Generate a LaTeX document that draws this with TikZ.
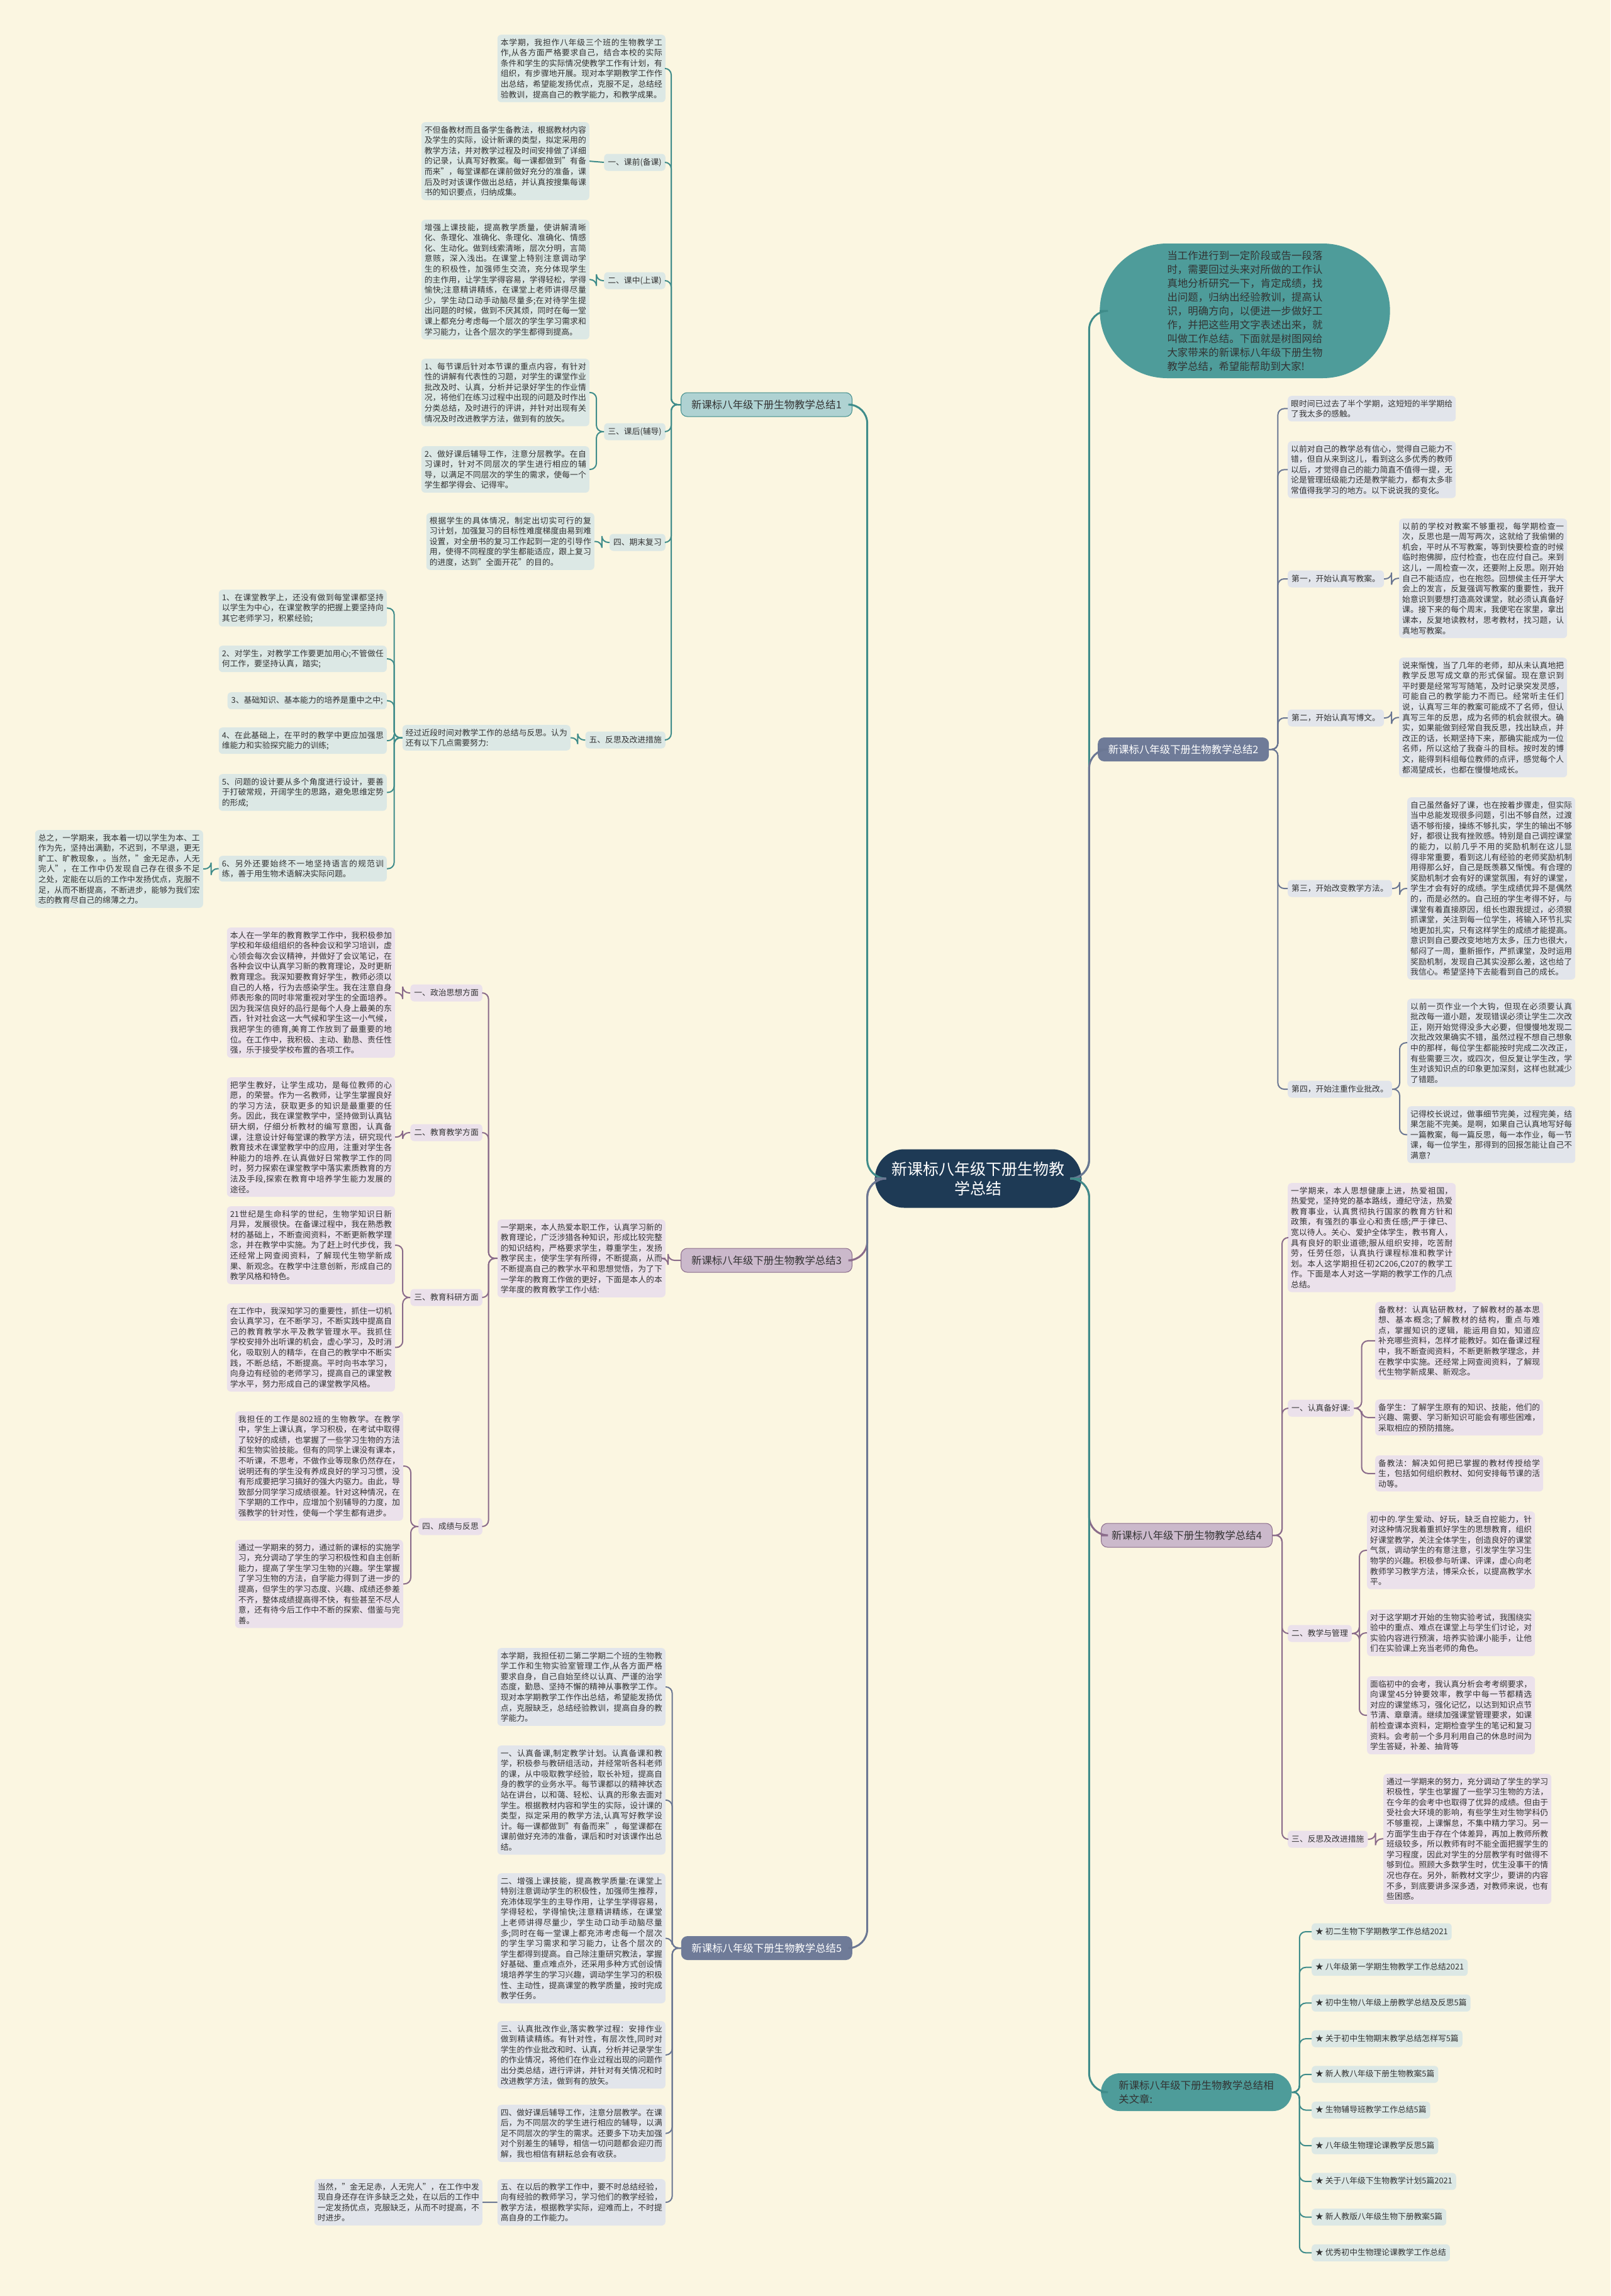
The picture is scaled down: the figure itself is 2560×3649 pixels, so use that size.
\documentclass[tikz,border=0pt]{standalone}
\usepackage{fontspec}
\setmainfont{Noto Sans CJK SC}
\XeTeXlinebreaklocale "zh"
\XeTeXlinebreakskip = 0pt plus 1pt
\usepackage{tikz}
\usetikzlibrary{shapes,arrows}
\usetikzlibrary{shapes.misc}

\definecolor{paper}{HTML}{FBF6E1}
\definecolor{ink}{HTML}{333333}
\definecolor{tealln}{HTML}{3F8C8A}
\definecolor{tealfill}{HTML}{4E9C9A}
\definecolor{tealleaf}{HTML}{DCE8E5}
\definecolor{slateln}{HTML}{6B7793}
\definecolor{slatefill}{HTML}{6F7B98}
\definecolor{slateleaf}{HTML}{E2E5EB}
\definecolor{plumln}{HTML}{8A6B8A}
\definecolor{plumfill}{HTML}{A07FA0}
\definecolor{plumleaf}{HTML}{EBE1EB}
\definecolor{rootfill}{HTML}{1E3A55}

\newcommand\leaffont{\fontsize{12.8}{16.6}\selectfont}
\newcommand\bigfont{\fontsize{16.4}{22}\selectfont}
\newcommand\rootfont{\fontsize{25}{31}\selectfont}

\tikzstyle{leaf} = [rectangle, rounded corners=6pt, text width=257pt,
    align=justify, inner xsep=5pt, inner ysep=6pt, font=\leaffont, text=ink]
\tikzstyle{tag} = [rectangle, rounded corners=6pt, inner xsep=6pt,
    inner ysep=7pt, text height=10.5pt, text depth=2.5pt, font=\leaffont, text=ink]
\tikzstyle{branch} = [rectangle, rounded corners=10pt, minimum width=272pt,
    minimum height=38pt, font=\bigfont]
\tikzstyle{stadium} = [rounded rectangle, fill=tealfill, text=ink, font=\bigfont]
\tikzstyle{edge} = [rounded corners=10pt, line width=2pt]
\tikzstyle{trunk} = [rounded corners=30pt, line width=3pt]

\begin{document}
\begin{tikzpicture}[x=1pt, y=-1pt]
  \useasboundingbox[fill=paper] (0,0) rectangle (2560,3649);
  % Place nodes
  \node [rounded rectangle, fill=rootfill, text=white, font=\rootfont,
    minimum width=335pt, minimum height=93pt, align=center]
    (root) at (1555,1873) {新课标八年级下册生物教\\学总结};

  % branch 1
  \node [branch, fill=tealfill!45, draw=tealln, line width=1pt, text=ink,
    anchor=east] (b1) at (1355,643) {新课标八年级下册生物教学总结1};
  \node [leaf, fill=tealleaf, anchor=north east] (b1t0) at (1058,55)
  {本学期，我担作八年级三个班的生物教学工作,从各方面严格要求自己，结合本校的实际条件和学生的实际情况使教学工作有计划，有组织，有步骤地开展。现对本学期教学工作作出总结，希望能发扬优点，克服不足，总结经验教训，提高自己的教学能力，和教学成果。};
  \node [tag, fill=tealleaf, anchor=east] (b1l1) at (1058,258) {一、课前(备课)};
  \node [leaf, fill=tealleaf, anchor=north east] (b1l1t) at (937,194)
  {不但备教材而且备学生备教法，根据教材内容及学生的实际，设计新课的类型，拟定采用的教学方法，并对教学过程及时间安排做了详细的记录，认真写好教案。每一课都做到"有备而来"，每堂课都在课前做好充分的准备，课后及时对该课作做出总结，并认真按搜集每课书的知识要点，归纳成集。};
  \node [tag, fill=tealleaf, anchor=east] (b1l2) at (1058,446) {二、课中(上课)};
  \node [leaf, fill=tealleaf, anchor=north east] (b1l2t) at (937,349)
  {增强上课技能，提高教学质量，使讲解清晰化、条理化、准确化、条理化、准确化、情感化、生动化。做到线索清晰，层次分明，言简意赅，深入浅出。在课堂上特别注意调动学生的积极性，加强师生交流，充分体现学生的主作用，让学生学得容易，学得轻松，学得愉快;注意精讲精练，在课堂上老师讲得尽量少，学生动口动手动脑尽量多;在对待学生提出问题的时候，做到不厌其烦，同时在每一堂课上都充分考虑每一个层次的学生学习需求和学习能力，让各个层次的学生都得到提高。};
  \node [tag, fill=tealleaf, anchor=east] (b1l3) at (1058,686) {三、课后(辅导)};
  \node [leaf, fill=tealleaf, anchor=north east] (b1l3a) at (937,570)
  {1、每节课后针对本节课的重点内容，有针对性的讲解有代表性的习题，对学生的课堂作业批改及时、认真，分析并记录好学生的作业情况，将他们在练习过程中出现的问题及时作出分类总结，及时进行的评讲，并针对出现有关情况及时改进教学方法，做到有的放矢。};
  \node [leaf, fill=tealleaf, anchor=north east] (b1l3b) at (937,709)
  {2、做好课后辅导工作，注意分层教学。在自习课时，针对不同层次的学生进行相应的辅导，以满足不同层次的学生的需求，使每一个学生都学得会、记得牢。};
  \node [tag, fill=tealleaf, anchor=east] (b1l4) at (1058,862) {四、期末复习};
  \node [leaf, fill=tealleaf, anchor=north east] (b1l4t) at (945,815)
  {根据学生的具体情况，制定出切实可行的复习计划，加强复习的目标性难度梯度由易到难设置，对全册书的复习工作起到一定的引导作用，使得不同程度的学生都能适应，跟上复习的进度，达到"全面开花"的目的。};
  \node [tag, fill=tealleaf, anchor=east] (b1l5) at (1058,1176) {五、反思及改进措施};
  \node [leaf, fill=tealleaf, anchor=north east] (b1l5t) at (907,1152)
  {经过近段时间对教学工作的总结与反思。认为还有以下几点需要努力:};
  \node [leaf, fill=tealleaf, anchor=north east] (b1r1) at (615,937)
  {1、在课堂教学上，还没有做到每堂课都坚持以学生为中心，在课堂教学的把握上要坚持向其它老师学习，积累经验;};
  \node [leaf, fill=tealleaf, anchor=north east] (b1r2) at (615,1026)
  {2、对学生，对教学工作要更加用心;不管做任何工作，要坚持认真，踏实;};
  \node [tag, fill=tealleaf, anchor=north east] (b1r3) at (615,1100)
  {3、基础知识、基本能力的培养是重中之中;};
  \node [leaf, fill=tealleaf, anchor=north east] (b1r4) at (615,1156)
  {4、在此基础上，在平时的教学中更应加强思维能力和实验探究能力的训练;};
  \node [leaf, fill=tealleaf, anchor=north east] (b1r5) at (615,1230)
  {5、问题的设计要从多个角度进行设计，要善于打破常规，开阔学生的思路，避免思维定势的形成;};
  \node [leaf, fill=tealleaf, anchor=north east] (b1r6) at (615,1360)
  {6、另外还要始终不一地坚持语言的规范训练，善于用生物术语解决实际问题。};
  \node [leaf, fill=tealleaf, anchor=north east] (b1r6t) at (323,1319)
  {总之，一学期来，我本着一切以学生为本、工作为先，坚持出满勤，不迟到，不早退，更无旷工、旷教现象，。当然，"金无足赤，人无完人"，在工作中仍发现自己存在很多不足之处，定能在以后的工作中发扬优点，克服不足，从而不断提高，不断进步，能够为我们宏志的教育尽自己的绵薄之力。};

  % branch 3
  \node [branch, fill=plumfill!55, draw=plumln, line width=1pt, text=ink,
    anchor=east] (b3) at (1355,2003) {新课标八年级下册生物教学总结3};
  \node [leaf, fill=plumleaf, anchor=north east] (b3t) at (1058,1938)
  {一学期来，本人热爱本职工作，认真学习新的教育理论，广泛涉猎各种知识，形成比较完整的知识结构，严格要求学生，尊重学生，发扬教学民主，使学生学有所得，不断提高，从而不断提高自己的教学水平和思想觉悟，为了下一学年的教育工作做的更好，下面是本人的本学年度的教育教学工作小结:};
  \node [tag, fill=plumleaf, anchor=east] (b3l1) at (767,1578) {一、政治思想方面};
  \node [leaf, fill=plumleaf, anchor=north east] (b3l1t) at (628,1474)
  {本人在一学年的教育教学工作中，我积极参加学校和年级组组织的各种会议和学习培训，虚心领会每次会议精神，并做好了会议笔记，在各种会议中认真学习新的教育理论，及时更新教育理念。我深知要教育好学生，教师必须以自己的人格，行为去感染学生。我在注意自身师表形象的同时非常重视对学生的全面培养。因为我深信良好的品行是每个人身上最美的东西，针对社会这一大气候和学生这一小气候，我把学生的德育,美育工作放到了最重要的地位。在工作中，我积极、主动、勤恳、责任性强，乐于接受学校布置的各项工作。};
  \node [tag, fill=plumleaf, anchor=east] (b3l2) at (767,1800) {二、教育教学方面};
  \node [leaf, fill=plumleaf, anchor=north east] (b3l2t) at (628,1712)
  {把学生教好，让学生成功，是每位教师的心愿，的荣誉。作为一名教师，让学生掌握良好的学习方法，获取更多的知识是最重要的任务。因此，我在课堂教学中，坚持做到认真钻研大纲，仔细分析教材的编写意图，认真备课，注意设计好每堂课的教学方法，研究现代教育技术在课堂教学中的应用，注重对学生各种能力的培养.在认真做好日常教学工作的同时，努力探索在课堂教学中落实素质教育的方法及手段,探索在教育中培养学生能力发展的途径。};
  \node [tag, fill=plumleaf, anchor=east] (b3l3) at (767,2062) {三、教育科研方面};
  \node [leaf, fill=plumleaf, anchor=north east] (b3l3a) at (628,1917)
  {21世纪是生命科学的世纪，生物学知识日新月异，发展很快。在备课过程中，我在熟悉教材的基础上，不断查阅资料，不断更新教学理念，并在教学中实施。为了赶上时代步伐，我还经常上网查阅资料，了解现代生物学新成果、新观念。在教学中注意创新，形成自己的教学风格和特色。};
  \node [leaf, fill=plumleaf, anchor=north east] (b3l3b) at (628,2071)
  {在工作中，我深知学习的重要性，抓住一切机会认真学习，在不断学习，不断实践中提高自己的教育教学水平及教学管理水平。我抓住学校安排外出听课的机会，虚心学习，及时消化，吸取别人的精华，在自己的教学中不断实践，不断总结，不断提高。平时向书本学习，向身边有经验的老师学习，提高自己的课堂教学水平，努力形成自己的课堂教学风格。};
  \node [tag, fill=plumleaf, anchor=east] (b3l4) at (767,2426) {四、成绩与反思};
  \node [leaf, fill=plumleaf, anchor=north east] (b3l4a) at (641,2243)
  {我担任的工作是802班的生物教学。在教学中，学生上课认真，学习积极，在考试中取得了较好的成绩，也掌握了一些学习生物的方法和生物实验技能。但有的同学上课没有课本，不听课，不思考，不做作业等现象仍然存在，说明还有的学生没有养成良好的学习习惯，没有形成要把学习搞好的强大内驱力。由此，导致部分同学学习成绩很差。针对这种情况，在下学期的工作中，应增加个别辅导的力度，加强教学的针对性，使每一个学生都有进步。};
  \node [leaf, fill=plumleaf, anchor=north east] (b3l4b) at (641,2447)
  {通过一学期来的努力，通过新的课标的实施学习，充分调动了学生的学习积极性和自主创新能力，提高了学生学习生物的兴趣。学生掌握了学习生物的方法，自学能力得到了进一步的提高，但学生的学习态度、兴趣、成绩还参差不齐，整体成绩提高得不快，有些甚至不尽人意，还有待今后工作中不断的探索、借鉴与完善。};

  % branch 5
  \node [branch, fill=slatefill, text=white, anchor=east] (b5) at (1355,3096)
    {新课标八年级下册生物教学总结5};
  \node [leaf, fill=slateleaf, anchor=north east] (b5t0) at (1058,2619)
  {本学期，我担任初二第二学期二个班的生物教学工作和生物实验室管理工作,从各方面严格要求自身，自己自始至终以认真、严谨的治学态度，勤恳、坚持不懈的精神从事教学工作。现对本学期教学工作作出总结，希望能发扬优点，克服缺乏，总结经验教训，提高自身的教学能力。};
  \node [leaf, fill=slateleaf, anchor=north east] (b5t1) at (1058,2774)
  {一、认真备课,制定教学计划。认真备课和教学，积极参与教研组活动，并经常听各科老师的课，从中吸取教学经验，取长补短，提高自身的教学的业务水平。每节课都以的精神状态站在讲台，以和蔼、轻松、认真的形象去面对学生。根据教材内容和学生的实际，设计课的类型，拟定采用的教学方法,认真写好教学设计。每一课都做到"有备而来"，每堂课都在课前做好充沛的准备，课后和时对该课作出总结。};
  \node [leaf, fill=slateleaf, anchor=north east] (b5t2) at (1058,2977)
  {二、增强上课技能，提高教学质量:在课堂上特别注意调动学生的积极性，加强师生推荐，充沛体现学生的主导作用，让学生学得容易，学得轻松，学得愉快;注意精讲精练，在课堂上老师讲得尽量少，学生动口动手动脑尽量多;同时在每一堂课上都充沛考虑每一个层次的学生学习需求和学习能力，让各个层次的学生都得到提高。自己除注重研究教法，掌握好基础、重点难点外，还采用多种方式创设情境培养学生的学习兴趣，调动学生学习的积极性、主动性，提高课堂的教学质量，按时完成教学任务。};
  \node [leaf, fill=slateleaf, anchor=north east] (b5t3) at (1058,3212)
  {三、认真批改作业,落实教学过程：安排作业做到精读精练。有针对性，有层次性,同时对学生的作业批改和时、认真，分析并记录学生的作业情况，将他们在作业过程出现的问题作出分类总结，进行评讲，并针对有关情况和时改进教学方法，做到有的放矢。};
  \node [leaf, fill=slateleaf, anchor=north east] (b5t4) at (1058,3345)
  {四、做好课后辅导工作，注意分层教学。在课后，为不同层次的学生进行相应的辅导，以满足不同层次的学生的需求。还要多下功夫加强对个别差生的辅导，相信一切问题都会迎刃而解，我也相信有耕耘总会有收获。};
  \node [leaf, fill=slateleaf, anchor=north east] (b5t5) at (1058,3463)
  {五、在以后的教学工作中，要不时总结经验，向有经验的教师学习，学习他们的教学经验，教学方法，根据教学实际，迎难而上，不时提高自身的工作能力。};
  \node [leaf, fill=slateleaf, anchor=north east] (b5t5a) at (767,3463)
  {当然，"金无足赤，人无完人"，在工作中发现自身还存在许多缺乏之处，在以后的工作中一定发扬优点，克服缺乏，从而不时提高，不时进步。};

  % intro and branch 2
  \node [stadium, minimum width=468pt, minimum height=214pt, text width=247pt,
    align=justify] (intro) at (1979,494)
  {当工作进行到一定阶段或告一段落时，需要回过头来对所做的工作认真地分析研究一下，肯定成绩，找出问题，归纳出经验教训，提高认识，明确方向，以便进一步做好工作，并把这些用文字表述出来，就叫做工作总结。下面就是树图网给大家带来的新课标八年级下册生物教学总结，希望能帮助到大家!};
  \node [branch, fill=slatefill, text=white, anchor=west] (b2) at (1745,1191)
    {新课标八年级下册生物教学总结2};
  \node [leaf, fill=slateleaf, anchor=north west] (b2t0) at (2047,629)
  {眼时间已过去了半个学期，这短短的半学期给了我太多的感触。};
  \node [leaf, fill=slateleaf, anchor=north west] (b2t1) at (2047,701)
  {以前对自己的教学总有信心，觉得自己能力不错，但自从来到这儿，看到这么多优秀的教师以后，才觉得自己的能力简直不值得一提，无论是管理班级能力还是教学能力，都有太多非常值得我学习的地方。以下说说我的变化。};
  \node [tag, fill=slateleaf, anchor=west] (b2l1) at (2047,920) {第一，开始认真写教案。};
  \node [leaf, fill=slateleaf, anchor=north west] (b2l1t) at (2224,824)
  {以前的学校对教案不够重视，每学期检查一次，反思也是一周写两次，这就给了我偷懒的机会，平时从不写教案，等到快要检查的时候临时抱佛脚，应付检查，也在应付自己。来到这儿，一周检查一次，还要附上反思。刚开始自己不能适应，也在抱怨。回想侯主任开学大会上的发言，反复强调写教案的重要性，我开始意识到要想打造高效课堂，就必须认真备好课。接下来的每个周末，我便宅在家里，拿出课本，反复地读教材，思考教材，找习题，认真地写教案。};
  \node [tag, fill=slateleaf, anchor=west] (b2l2) at (2047,1141) {第二，开始认真写博文。};
  \node [leaf, fill=slateleaf, anchor=north west] (b2l2t) at (2224,1045)
  {说来惭愧，当了几年的老师，却从未认真地把教学反思写成文章的形式保留。现在意识到平时要是经常写写随笔，及时记录突发灵感，可能自己的教学能力不而已。经常听主任们说，认真写三年的教案可能成不了名师，但认真写三年的反思，成为名师的机会就很大。确实，如果能做到经常自我反思，找出缺点，并改正的话，长期坚持下来，那确实能成为一位名师，所以这给了我奋斗的目标。按时发的博文，能得到科组每位教师的点评，感觉每个人都渴望成长，也都在慢慢地成长。};
  \node [tag, fill=slateleaf, anchor=west] (b2l3) at (2047,1412) {第三，开始改变教学方法。};
  \node [leaf, fill=slateleaf, anchor=north west] (b2l3t) at (2237,1267)
  {自己虽然备好了课，也在按着步骤走，但实际当中总能发现很多问题，引出不够自然，过渡语不够衔接，操练不够扎实，学生的输出不够好，都很让我有挫败感。特别是自己调控课堂的能力，以前几乎不用的奖励机制在这儿显得非常重要，看到这儿有经验的老师奖励机制用得那么好，自己是既羡慕又惭愧。有合理的奖励机制才会有好的课堂氛围，有好的课堂，学生才会有好的成绩。学生成绩优异不是偶然的，而是必然的。自己班的学生考得不好，与课堂有着直接原因，组长也跟我提过，必须狠抓课堂，关注到每一位学生，将输入环节扎实地更加扎实，只有这样学生的成绩才能提高。意识到自己要改变地地方太多，压力也很大，郁闷了一周，重新振作，严抓课堂，及时运用奖励机制，发现自己其实没那么差，这也给了我信心。希望坚持下去能看到自己的成长。};
  \node [tag, fill=slateleaf, anchor=west] (b2l4) at (2047,1731) {第四，开始注重作业批改。};
  \node [leaf, fill=slateleaf, anchor=north west] (b2l4a) at (2237,1587)
  {以前一页作业一个大钩，但现在必须要认真批改每一道小题，发现错误必须让学生二次改正，刚开始觉得没多大必要，但慢慢地发现二次批改效果确实不错，虽然过程不想自己想象中的那样，每位学生都能按时完成二次改正，有些需要三次，或四次，但反复让学生改，学生对该知识点的印象更加深刻，这样也就减少了错题。};
  \node [leaf, fill=slateleaf, anchor=north west] (b2l4b) at (2237,1758)
  {记得校长说过，做事细节完美，过程完美，结果怎能不完美。是啊，如果自己认真地写好每一篇教案，每一篇反思，每一本作业，每一节课，每一位学生，那得到的回报怎能让自己不满意?};

  % branch 4
  \node [branch, fill=plumfill!55, draw=plumln, line width=1pt, text=ink,
    anchor=west] (b4) at (1750,2440) {新课标八年级下册生物教学总结4};
  \node [leaf, fill=plumleaf, anchor=north west] (b4t0) at (2047,1880)
  {一学期来，本人思想健康上进，热爱祖国，热爱党，坚持党的基本路线，遵纪守法，热爱教育事业，认真贯彻执行国家的教育方针和政策，有强烈的事业心和责任感;严于律已、宽以待人。关心、爱护全体学生，教书育人，具有良好的职业道德;服从组织安排，吃苦耐劳，任劳任怨，认真执行课程标准和教学计划。本人这学期担任初2C206,C207的教学工作。下面是本人对这一学期的教学工作的几点总结。};
  \node [tag, fill=plumleaf, anchor=west] (b4l1) at (2047,2238) {一、认真备好课:};
  \node [leaf, fill=plumleaf, anchor=north west] (b4l1a) at (2186,2069)
  {备教材：认真钻研教材，了解教材的基本思想、基本概念;了解教材的结构，重点与难点，掌握知识的逻辑，能运用自如，知道应补充哪些资料，怎样才能教好。如在备课过程中，我不断查阅资料，不断更新教学理念，并在教学中实施。还经常上网查阅资料，了解现代生物学新成果、新观念。};
  \node [leaf, fill=plumleaf, anchor=north west] (b4l1b) at (2186,2224)
  {备学生：了解学生原有的知识、技能，他们的兴趣、需要、学习新知识可能会有哪些困难，采取相应的预防措施。};
  \node [leaf, fill=plumleaf, anchor=north west] (b4l1c) at (2186,2313)
  {备教法：解决如何把已掌握的教材传授给学生，包括如何组织教材、如何安排每节课的活动等。};
  \node [tag, fill=plumleaf, anchor=west] (b4l2) at (2047,2596) {二、教学与管理};
  \node [leaf, fill=plumleaf, anchor=north west] (b4l2a) at (2173,2402)
  {初中的.学生爱动、好玩，缺乏自控能力，针对这种情况我着重抓好学生的思想教育，组织好课堂教学，关注全体学生，创造良好的课堂气氛，调动学生的有意注意，引发学生学习生物学的兴趣。积极参与听课、评课，虚心向老教师学习教学方法，博采众长，以提高教学水平。};
  \node [leaf, fill=plumleaf, anchor=north west] (b4l2b) at (2173,2558)
  {对于这学期才开始的生物实验考试，我围绕实验中的重点、难点在课堂上与学生们讨论，对实验内容进行预演，培养实验课小能手，让他们在实验课上充当老师的角色。};
  \node [leaf, fill=plumleaf, anchor=north west] (b4l2c) at (2173,2664)
  {面临初中的会考，我认真分析会考考纲要求，向课堂45分钟要效率，教学中每一节都精选对应的课堂练习，强化记忆，以达到知识点节节清、章章清。继续加强课堂管理要求，如课前检查课本资料，定期检查学生的笔记和复习资料。会考前一个多月利用自己的休息时间为学生答疑，补差、抽背等};
  \node [tag, fill=plumleaf, anchor=west] (b4l3) at (2047,2923) {三、反思及改进措施};
  \node [leaf, fill=plumleaf, anchor=north west] (b4l3a) at (2199,2819)
  {通过一学期来的努力，充分调动了学生的学习积极性，学生也掌握了一些学习生物的方法，在今年的会考中也取得了优异的成绩。但由于受社会大环境的影响，有些学生对生物学科仍不够重视，上课懈怠，不集中精力学习。另一方面学生由于存在个体差异，再加上教师所教班级较多，所以教师有时不能全面把握学生的学习程度，因此对学生的分层教学有时做得不够到位。照顾大多数学生时，优生没事干的情况也存在。另外，新教材文字少，要讲的内容不多，到底要讲多深多透，对教师来说，也有些困惑。};

  % branch 6
  \node [stadium, minimum width=310pt, minimum height=60pt, text width=247pt,
    align=left, anchor=west] (b6) at (1750,3325)
  {新课标八年级下册生物教学总结相关文章:};
  \foreach \t [count=\i] in {初二生物下学期教学工作总结2021,
      八年级第一学期生物教学工作总结2021, 初中生物八年级上册教学总结及反思5篇,
      关于初中生物期末教学总结怎样写5篇, 新人教八年级下册生物教案5篇,
      生物辅导班教学工作总结5篇, 八年级生物理论课教学反思5篇,
      关于八年级下生物教学计划5篇2021, 新人教版八年级生物下册教案5篇,
      优秀初中生物理论课教学工作总结}
    \node [tag, fill=tealleaf, anchor=west] (b6i\i) at (2085,3013.3+56.7*\i) {★ \t};

  % Draw edges
  \draw [trunk, tealln] (root.west) -- ++(-12,0) |- (b1.east);
  \draw [trunk, plumln] (root.west) -- ++(-12,0) |- (b3.east);
  \draw [trunk, slateln] (root.west) -- ++(-12,0) |- (b5.east);
  \draw [trunk, tealln] (root.east) -- ++(12,0) |- (intro.west);
  \draw [trunk, slateln] (root.east) -- ++(12,0) |- (b2.west);
  \draw [trunk, plumln] (root.east) -- ++(12,0) |- (b4.west);
  \draw [trunk, tealln] (root.east) -- ++(12,0) |- (b6.west);

  \foreach \c in {b1t0,b1l1,b1l2,b1l3,b1l4,b1l5}
    \draw [edge, tealln] (b1.west) -- ++(-15,0) |- (\c.east);
  \draw [edge, tealln] (b1l1.west) -- (b1l1t.east);
  \draw [edge, tealln] (b1l2.west) -- ++(-12,0) |- (b1l2t.east);
  \foreach \c in {b1l3a,b1l3b}
    \draw [edge, tealln] (b1l3.west) -- ++(-12,0) |- (\c.east);
  \draw [edge, tealln] (b1l4.west) -- ++(-12,0) |- (b1l4t.east);
  \draw [edge, tealln] (b1l5.west) -- ++(-12,0) |- (b1l5t.east);
  \foreach \c in {b1r1,b1r2,b1r3,b1r4,b1r5,b1r6}
    \draw [edge, tealln] (b1l5t.west) -- ++(-13,0) |- (\c.east);
  \draw [edge, tealln] (b1r6.west) -- ++(-12,0) |- (b1r6t.east);

  \draw [edge, plumln] (b3.west) -- ++(-20,0) |- (b3t.east);
  \foreach \c in {b3l1,b3l2,b3l3,b3l4}
    \draw [edge, plumln] (b3t.west) -- ++(-14,0) |- (\c.east);
  \draw [edge, plumln] (b3l1.west) -- ++(-12,0) |- (b3l1t.east);
  \draw [edge, plumln] (b3l2.west) -- ++(-12,0) |- (b3l2t.east);
  \foreach \c in {b3l3a,b3l3b}
    \draw [edge, plumln] (b3l3.west) -- ++(-12,0) |- (\c.east);
  \foreach \c in {b3l4a,b3l4b}
    \draw [edge, plumln] (b3l4.west) -- ++(-12,0) |- (\c.east);

  \foreach \c in {b5t0,b5t1,b5t2,b5t3,b5t4,b5t5}
    \draw [edge, slateln] (b5.west) -- ++(-14,0) |- (\c.east);
  \draw [edge, slateln] (b5t5.west) -- (b5t5a.east);

  \foreach \c in {b2t0,b2t1,b2l1,b2l2,b2l3,b2l4}
    \draw [edge, slateln] (b2.east) -- ++(14,0) |- (\c.west);
  \draw [edge, slateln] (b2l1.east) -- ++(12,0) |- (b2l1t.west);
  \draw [edge, slateln] (b2l2.east) -- ++(12,0) |- (b2l2t.west);
  \draw [edge, slateln] (b2l3.east) -- ++(12,0) |- (b2l3t.west);
  \foreach \c in {b2l4a,b2l4b}
    \draw [edge, slateln] (b2l4.east) -- ++(12,0) |- (\c.west);

  \foreach \c in {b4t0,b4l1,b4l2,b4l3}
    \draw [edge, plumln] (b4.east) -- ++(15,0) |- (\c.west);
  \foreach \c in {b4l1a,b4l1b,b4l1c}
    \draw [edge, plumln] (b4l1.east) -- ++(12,0) |- (\c.west);
  \foreach \c in {b4l2a,b4l2b,b4l2c}
    \draw [edge, plumln] (b4l2.east) -- ++(12,0) |- (\c.west);
  \draw [edge, plumln] (b4l3.east) -- ++(12,0) |- (b4l3a.west);

  \foreach \i in {1,...,10}
    \draw [edge, tealln] (b6.east) -- ++(12,0) |- (b6i\i.west);
\end{tikzpicture}
\end{document}
